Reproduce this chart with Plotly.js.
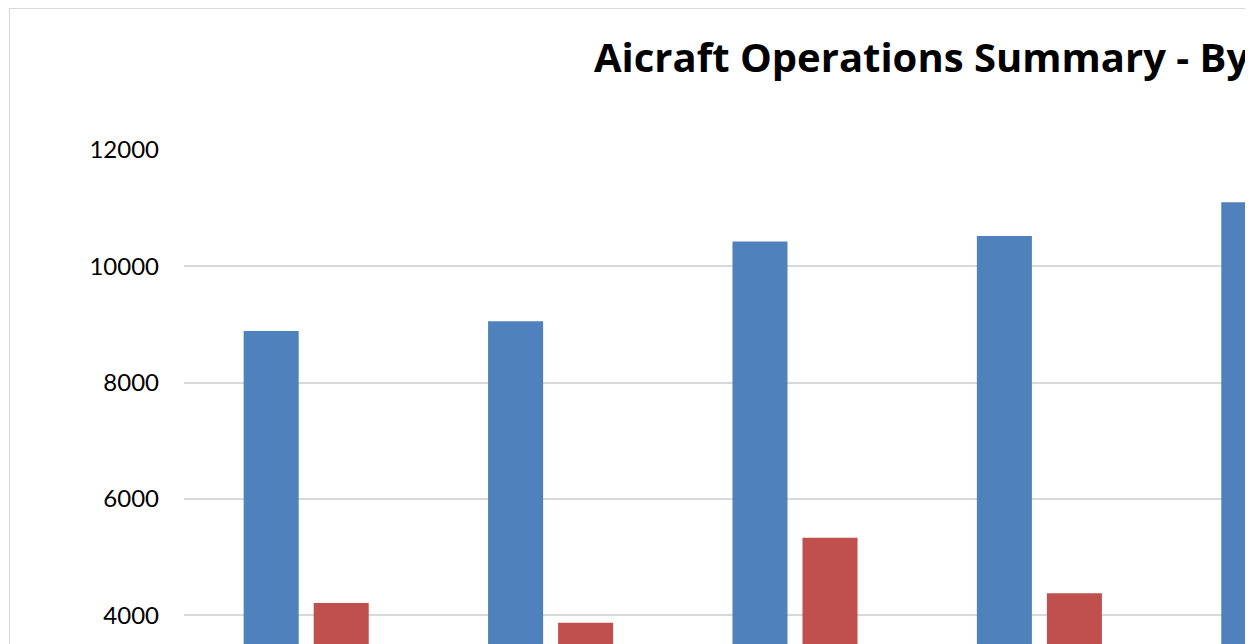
<!DOCTYPE html>
<html>
<head>
<meta charset="utf-8">
<script src="https://cdn.plot.ly/plotly-3.0.1.min.js"></script>
<style>
  html, body { margin: 0; padding: 0; background: #ffffff; overflow: hidden; }
  #clip { position: absolute; left: 0; top: 0; width: 1245px; height: 644px; overflow: hidden; background: #ffffff; }
  #chart { position: absolute; left: 9px; top: 8px; width: 1940px; height: 940px; border: 1px solid #d9d9d9; }
</style>
</head>
<body>
<div id="clip"><div id="chart"></div></div>
<script>
// Categories (their axis labels lie outside the visible crop)
const categories = ["2010", "2011", "2012", "2013", "2014"];
// Series values
const itinerantOps = [8890, 9057, 10425, 10523, 11102];
const localOps = [4213, 3874, 5335, 4378, null];
const seriesNames = ["Itinerant", "Local"];
const yTicks = [0, 2000, 4000, 6000, 8000, 10000, 12000];
const titleText = "Aicraft Operations Summary - By Year";

const W = 1940, H = 940;
const traces = [
  { type: "bar", name: seriesNames[0], x: categories, y: itinerantOps,
    marker: { color: "#4F81BD" }, hoverinfo: "skip" },
  { type: "bar", name: seriesNames[1], x: categories, y: localOps,
    marker: { color: "#C0504D" }, hoverinfo: "skip" }
];

const layout = {
  width: W, height: H,
  paper_bgcolor: "#ffffff", plot_bgcolor: "#ffffff",
  margin: { l: 174, r: W - 174 - 1222.5, t: 141, b: H - 141 - 698.5, pad: 0 },
  barmode: "group",
  bargap: 0.427,
  bargroupgap: 0.214,
  showlegend: false,
  font: { family: "Lato, 'Open Sans', sans-serif", color: "#000000" },
  title: {
    text: "<b>" + titleText + "</b>",
    font: { family: "'Open Sans', Lato, sans-serif", size: 40, color: "#000000" },
    xref: "container", x: (594 - 10) / W, xanchor: "left",
    yref: "container", y: 1 - (58 - 9) / H, yanchor: "middle"
  },
  xaxis: {
    type: "category", range: [-0.5, 4.5],
    showgrid: false, zeroline: false, showline: true, linecolor: "#d9d9d9",
    showticklabels: false
  },
  yaxis: {
    range: [0, 12000], tickvals: yTicks, tickformat: "d",
    showgrid: true, gridcolor: "#d9d9d9", gridwidth: 2,
    zeroline: false, showline: false,
    ticks: "", ticklabelstandoff: 24,
    tickfont: { size: 24, color: "#000000" }
  }
};

Plotly.newPlot("chart", traces, layout, { staticPlot: true, displayModeBar: false });
</script>
</body>
</html>
